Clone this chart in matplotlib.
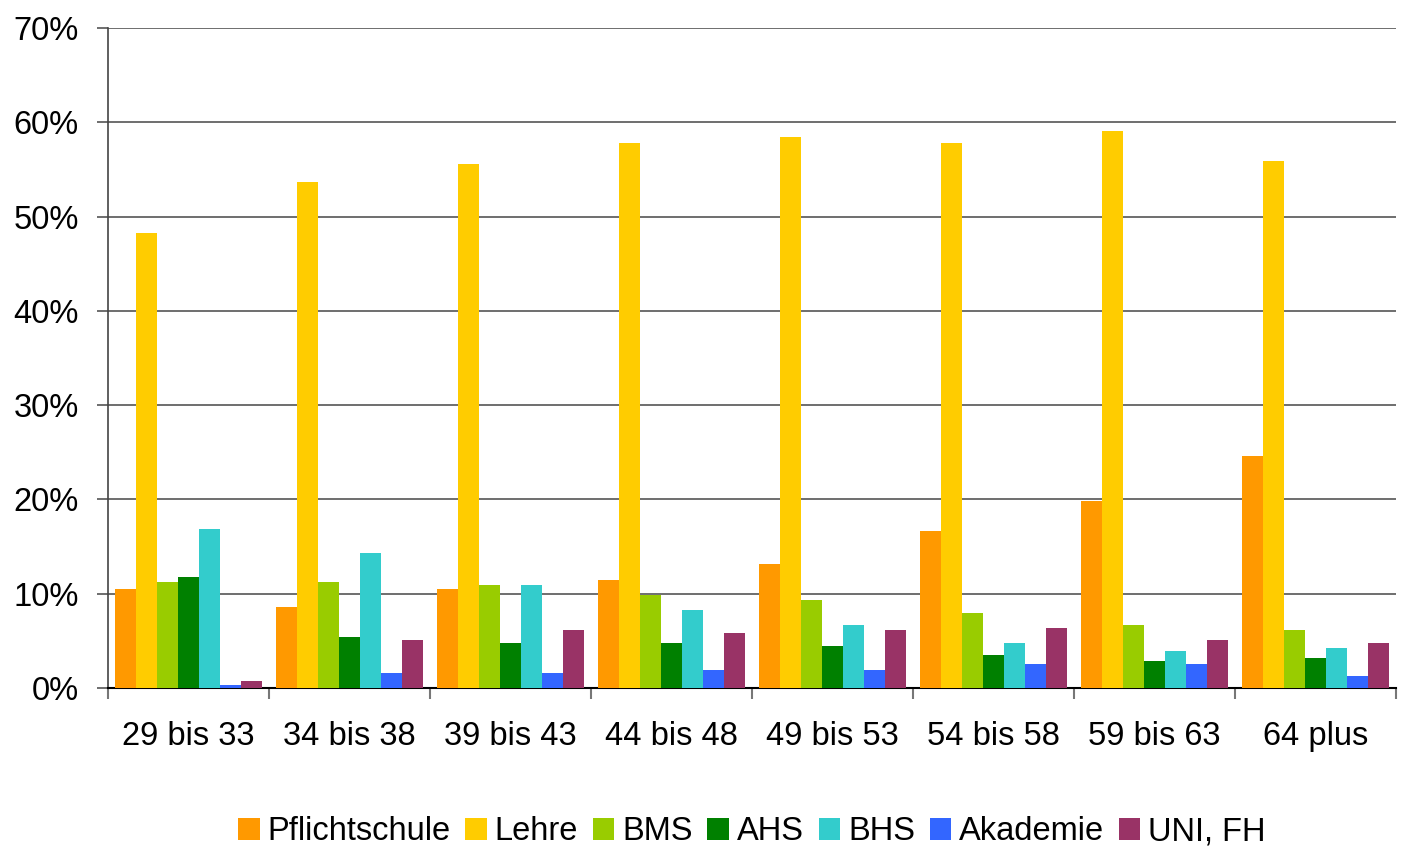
import numpy as np
import matplotlib.pyplot as plt

plt.rcParams['font.family'] = ['Liberation Sans', 'DejaVu Sans']

groups = ['29 bis 33', '34 bis 38', '39 bis 43', '44 bis 48',
          '49 bis 53', '54 bis 58', '59 bis 63', '64 plus']

# Anteile in Prozent je Altersgruppe
pflichtschule = [10.5, 8.6, 10.5, 11.5, 13.1, 16.6, 19.8, 24.6]
lehre = [48.3, 53.7, 55.6, 57.8, 58.4, 57.8, 59.1, 55.9]
bms = [11.2, 11.2, 10.9, 9.9, 9.3, 8.0, 6.7, 6.1]
ahs = [11.8, 5.4, 4.8, 4.8, 4.5, 3.5, 2.9, 3.2]
bhs = [16.9, 14.3, 10.9, 8.3, 6.7, 4.8, 3.9, 4.2]
akademie = [0.35, 1.6, 1.6, 1.9, 1.9, 2.6, 2.6, 1.3]
uni_fh = [0.7, 5.1, 6.1, 5.8, 6.1, 6.4, 5.1, 4.8]

series = [
    ('Pflichtschule', pflichtschule, '#FF9900'),
    ('Lehre', lehre, '#FFCC00'),
    ('BMS', bms, '#99CC00'),
    ('AHS', ahs, '#008000'),
    ('BHS', bhs, '#33CCCC'),
    ('Akademie', akademie, '#3366FF'),
    ('UNI, FH', uni_fh, '#993366'),
]

fig = plt.figure(figsize=(14.01, 8.47), dpi=100)
ax = fig.add_axes([0.0771, 0.1877, 0.9193, 0.7793])

x = np.arange(len(groups))
w = 0.131
for i, (name, vals, col) in enumerate(series):
    ax.bar(x + (i - 3) * w, vals, width=w, color=col, label=name,
           linewidth=0, zorder=3)

ax.set_xlim(-0.5, len(groups) - 0.5)
ax.set_ylim(0, 70)
ax.set_yticks(range(0, 71, 10))
ax.set_yticklabels([f'{v}%' for v in range(0, 71, 10)], fontsize=23.5)
ax.yaxis.grid(True, color='#555555', linewidth=1.2, zorder=0)
ax.set_axisbelow(True)

# Beschriftung mittig, Teilstriche an den Gruppengrenzen
ax.set_xticks(x)
ax.set_xticklabels(groups, fontsize=23.5)
ax.tick_params(axis='x', which='major', length=0, pad=24)
ax.set_xticks(np.arange(-0.5, len(groups)), minor=True)
ax.tick_params(axis='x', which='minor', length=8, width=1.5, color='#777777')
ax.tick_params(axis='y', length=8, width=1.2, color='#555555', pad=13)

for s in ['top', 'right']:
    ax.spines[s].set_visible(False)
ax.spines['left'].set_color('#444444')
ax.spines['left'].set_linewidth(1.2)
ax.spines['bottom'].set_color('black')
ax.spines['bottom'].set_linewidth(1.5)

ax.legend(loc='upper center', bbox_to_anchor=(0.5, -0.15), ncol=7,
          frameon=False, fontsize=23.5, handlelength=0.65, handleheight=0.65,
          handletextpad=0.25, columnspacing=0.45)

plt.savefig('out.png', dpi=100)
